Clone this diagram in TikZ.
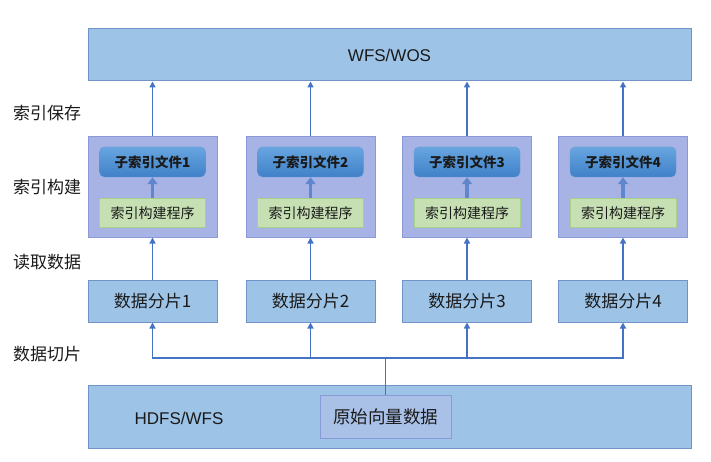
\documentclass[tikz,border=0pt]{standalone}
\usepackage{fontspec}
\setmainfont{Noto Sans CJK SC}
\newfontfamily\latinfont{Liberation Sans}
\usetikzlibrary{arrows.meta,positioning}
\definecolor{wsblue}{HTML}{9DC3E6}
\definecolor{wsedge}{HTML}{7093C8}
\definecolor{wspurple}{HTML}{A7B3E4}
\definecolor{wspedge}{HTML}{8A99D8}
\definecolor{wsfiletop}{HTML}{68A6E0}
\definecolor{wsfilebot}{HTML}{3F80C8}
\definecolor{wsgreen}{HTML}{C6E0B4}
\definecolor{wsgedge}{HTML}{A6CF8C}
\definecolor{wsraw}{HTML}{A9C0E7}
\definecolor{wsline}{HTML}{4472C4}
\definecolor{wstext}{HTML}{1A1A1A}
\tikzset{
  store/.style={draw=wsedge,fill=wsblue,line width=1pt,inner sep=0pt,
               text=wstext,font=\latinfont\fontsize{17}{20}\selectfont},
  storelab/.style={inner sep=0pt,text=wstext,font=\latinfont\fontsize{17}{20}\selectfont},
  shard/.style={draw=wsedge,fill=wsblue,line width=1pt,inner sep=0pt,
               minimum width=129pt,minimum height=42pt,text=wstext,
               font=\fontsize{17}{20}\selectfont},
  build/.style={draw=wspedge,fill=wspurple,line width=1pt,inner sep=0pt,
               minimum width=129pt,minimum height=100pt},
  file/.style={draw=wsfilebot!80!white,top color=wsfiletop,bottom color=wsfilebot,
               rounded corners=5pt,inner sep=0pt,minimum width=106pt,
               minimum height=30pt,text=wstext,font=\bfseries\fontsize{13.5}{16}\selectfont},
  prog/.style={draw=wsgedge,fill=wsgreen,line width=1pt,inner sep=0pt,
               minimum width=106pt,minimum height=29pt,text=wstext,
               font=\fontsize{14}{17}\selectfont},
  raw/.style={draw=wspedge,fill=wsraw,line width=1pt,inner sep=0pt,
               minimum width=131pt,minimum height=43pt,text=wstext,
               font=\fontsize{17.5}{20}\selectfont},
  side/.style={text=wstext,inner sep=0pt,font=\fontsize{17}{20}\selectfont},
  ar/.style={-{Triangle[length=6pt,width=6pt]},line width=1.8pt,wsline},
  arthick/.style={-{Triangle[length=7pt,width=10pt]},line width=3.2pt,wsline!85!white},
  line/.style={line width=1.8pt,wsline},
}
\begin{document}
\begin{tikzpicture}[x=1pt,y=-1pt]
\useasboundingbox (0,0) rectangle (711,462);
% storage layers
\node[store,minimum width=603pt,minimum height=52pt] (wfs) at (389.5,55) {WFS/WOS};
\node[store,minimum width=603pt,minimum height=63pt] (hdfs) at (389.5,416.5) {};
\node[storelab] (hdfslab) at (179,418) {HDFS/WFS};
\node[raw] (raw) at (385.5,416.5) {原始向量数据};
% stage labels
\node[side] (lsave) at (47,113) {索引保存};
\node[side] (lbuild) at (47,187) {索引构建};
\node[side] (lread) at (47,262) {读取数据};
\node[side] (lsplit) at (47,354) {数据切片};
% bus
\coordinate (bus) at (385.5,358);
\draw[line] (raw.north) -- (bus);
\foreach \i/\x in {1/152.5,2/310.5,3/467,4/623}{
  \node[shard] (shard\i) at (\x,301) {数据分片\i};
  \node[build] (col\i) at (\x,187) {};
  \node[file] (file\i) at (\x,162) {子索引文件\i};
  \node[prog,below=21pt of file\i] (prog\i) {索引构建程序};
  \draw[arthick] (prog\i) -- (file\i);
  \draw[ar] (col\i.north) -- (col\i.north |- wfs.south);
  \draw[ar] (shard\i.north) -- (col\i.south);
  \draw[ar] (bus) -| (shard\i.south);
}
\end{tikzpicture}
\end{document}
